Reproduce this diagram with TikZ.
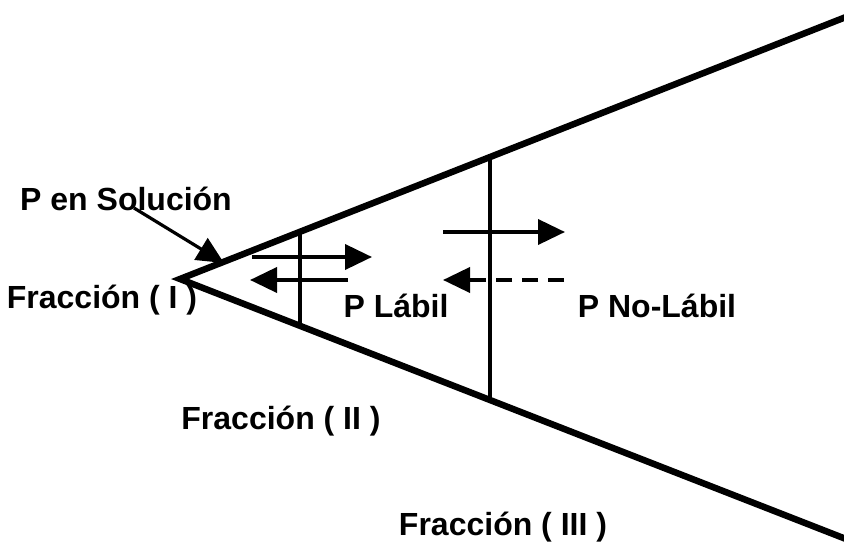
\documentclass[tikz,border=0pt]{standalone}
\usepackage{fontspec}
\setmainfont{Liberation Sans}
\usetikzlibrary{arrows.meta, positioning, calc}

\begin{document}
\begin{tikzpicture}[
  x=1pt, y=-1pt,
  wedge/.style={line width=6.5pt, line cap=round},
  divline/.style={line width=3.5pt},
  flow/.style={line width=3.8pt, -{Triangle[length=27pt, width=25pt]}},
  lbl/.style={font=\fontsize{32}{38}\selectfont\bfseries, inner sep=0pt}
]
  \useasboundingbox (0,0) rectangle (844,545);
  % wedge
  \coordinate (apex) at (180,279);
  \coordinate (topend) at (846,17);
  \coordinate (botend) at (846,539);
  \draw[wedge] (topend) -- (apex) -- (botend);
  % dividing lines
  \coordinate (d1t) at (300,232);
  \coordinate (d1b) at (300,326);
  \coordinate (d2t) at (490,157);
  \coordinate (d2b) at (490,400);
  \draw[divline] (d1t) -- (d1b);
  \draw[divline] (d2t) -- (d2b);
  % exchange arrows
  \coordinate (a1s) at (252,257);
  \coordinate (a1e) at (372,257);
  \coordinate (a2s) at (348,280);
  \coordinate (a2e) at (250,280);
  \coordinate (a3s) at (443,232);
  \coordinate (a3e) at (565,232);
  \coordinate (a4s) at (564,280);
  \coordinate (a4e) at (443,280);
  \draw[flow] (a1s) -- (a1e);
  \draw[flow] (a2s) -- (a2e);
  \draw[flow] (a3s) -- (a3e);
  \draw[flow, dash pattern=on 16pt off 10pt] (a4s) -- (a4e);
  % labels
  \node[lbl] (sol) at (126,199) {P en Solución};
  \node[lbl] (frI) at (102,300) {Fracción ( I )};
  \node[lbl] (lab) at (396,306) {P Lábil};
  \node[lbl] (nolab) at (657,306) {P No-Lábil};
  \node[lbl] (frII) at (281,421) {Fracción ( II )};
  \node[lbl] (frIII) at (503,527) {Fracción ( III )};
  \coordinate (solp) at (134,208);
  \coordinate (solt) at (224,263);
  \draw[line width=3.2pt, -{Triangle[length=27pt, width=25pt]}] (solp) -- (solt);
\end{tikzpicture}
\end{document}
